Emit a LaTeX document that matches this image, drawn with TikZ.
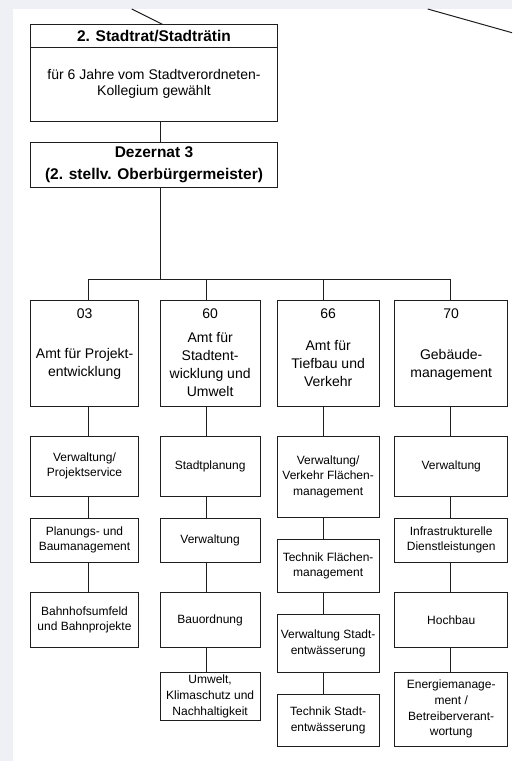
\documentclass[tikz,border=0pt]{standalone}
\usepackage{fontspec}
\setmainfont{Liberation Sans}
\definecolor{bgray}{RGB}{238,240,246}
\definecolor{ink}{RGB}{30,30,30}
\begin{document}
\begin{tikzpicture}[x=1pt,y=-1pt,
  box/.style={draw=ink, line width=1pt, inner sep=0pt, align=center, rectangle},
  sub/.style={box, font=\fontsize{12}{15.7}\selectfont},
  lbl/.style={inner sep=0pt, align=center},
  amt/.style={lbl, font=\fontsize{14}{18}\selectfont},
  conn/.style={draw=ink, line width=1pt}]
\fill[bgray] (0,0) rectangle (512,761);
\fill[white] (13,9) rectangle (512,761);
\useasboundingbox (0,0) rectangle (512,761);

% helper coordinates
\coordinate (hdr) at (0,47);
\coordinate (bar) at (0,279);
\coordinate (cx) at (160.3,0);
\coordinate (c03) at (88.7,0);
\coordinate (c60) at (206.8,0);
\coordinate (c66) at (323.3,0);
\coordinate (c70) at (450,0);

% top boxes
\node[box, minimum width=246.6pt, minimum height=96.7pt] (rat) at (154,72.65) {};
\node[lbl, font=\fontsize{15.5}{20}\selectfont\bfseries] (rathead) at (154,36) {2. Stadtrat/Stadträtin};
\node[lbl, font=\fontsize{14}{16.3}\selectfont] (ratbody) at (154,84.2) {für 6 Jahre vom Stadtverordneten-\\Kollegium gewählt};
\draw[conn] (rat.west |- hdr) -- (rat.east |- hdr);

\node[box, minimum width=246.6pt, minimum height=44.7pt, font=\fontsize{15.5}{21.7}\selectfont\bfseries] (dez) at (154,164.65) {Dezernat 3\\(2. stellv. Oberbürgermeister)};

% incoming lines from outside
\coordinate (inL) at (131.7,9);
\coordinate (ratin) at (162.3,24.3);
\coordinate (inR) at (427.7,9);
\coordinate (outR) at (512,32.7);
\draw[conn] (inL) -- (ratin);
\draw[conn] (inR) -- (outR);

% Aemter
\node[box, minimum width=107.8pt, minimum height=105.8pt] (a03) at (84.6,353.6) {};
\node[amt] (n03) at (84.6,313.3) {03};
\node[amt] (t03) at (84.6,364.2) {Amt für Projekt-\\entwicklung};

\node[box, minimum width=100.3pt, minimum height=105.8pt] (a60) at (210.15,353.6) {};
\node[amt] (n60) at (210.15,313.3) {60};
\node[amt] (t60) at (210.15,364.3) {Amt für\\Stadtent-\\wicklung und\\Umwelt};

\node[box, minimum width=101.7pt, minimum height=105.8pt] (a66) at (328.15,353.6) {};
\node[amt] (n66) at (328.15,313.3) {66};
\node[amt] (t66) at (328.15,363.8) {Amt für\\Tiefbau und\\Verkehr};

\node[box, minimum width=113pt, minimum height=105.8pt] (a70) at (451.2,353.6) {};
\node[amt] (n70) at (451.2,313.3) {70};
\node[amt] (t70) at (451.2,364.7) {Gebäude-\\management};

% column 03
\node[sub, minimum width=107.6pt, minimum height=60pt] (s03a) at (84.5,466) {Verwaltung/\\Projektservice};
\node[sub, minimum width=107.6pt, minimum height=44pt] (s03b) at (84.5,540) {Planungs- und\\Baumanagement};
\node[sub, minimum width=107.6pt, minimum height=55.4pt] (s03c) at (84.5,620) {Bahnhofsumfeld\\und Bahnprojekte};

% column 60
\node[sub, minimum width=100.3pt, minimum height=60pt] (s60a) at (210.15,466) {Stadtplanung};
\node[sub, minimum width=100.3pt, minimum height=44pt] (s60b) at (210.15,540) {Verwaltung};
\node[sub, minimum width=100.3pt, minimum height=55.4pt] (s60c) at (210.15,620) {Bauordnung};
\node[sub, minimum width=100.3pt, minimum height=48.4pt] (s60d) at (210.15,696.5) {Umwelt,\\Klimaschutz und\\Nachhaltigkeit};

% column 66
\node[sub, minimum width=101.7pt, minimum height=81.7pt] (s66a) at (328.15,476.85) {Verwaltung/\\Verkehr Flächen-\\management};
\node[sub, minimum width=101.7pt, minimum height=52.6pt] (s66b) at (328.15,566) {Technik Flächen-\\management};
\node[sub, minimum width=101.7pt, minimum height=57.6pt] (s66c) at (328.15,643.5) {Verwaltung Stadt-\\entwässerung};
\node[sub, minimum width=101.7pt, minimum height=52pt] (s66d) at (328.15,720.3) {Technik Stadt-\\entwässerung};

% column 70
\node[sub, minimum width=113pt, minimum height=60pt] (s70a) at (451.2,466) {Verwaltung};
\node[sub, minimum width=113pt, minimum height=44pt] (s70b) at (451.2,540) {Infrastrukturelle\\Dienstleistungen};
\node[sub, minimum width=113pt, minimum height=55.4pt] (s70c) at (451.2,620) {Hochbau};
\node[sub, minimum width=113pt, minimum height=74pt] (s70d) at (451.2,709.3) {Energiemanage-\\ment /\\Betreiberverant-\\wortung};

% connectors
\draw[conn] (rat.south -| cx) -- (dez.north -| cx);
\draw[conn] (dez.south -| cx) -- (cx |- bar);
\draw[conn] (c03 |- bar) -- (c70 |- bar);
\draw[conn] (c03 |- bar) -- (a03.north -| c03);
\draw[conn] (c60 |- bar) -- (a60.north -| c60);
\draw[conn] (c66 |- bar) -- (a66.north -| c66);
\draw[conn] (c70 |- bar) -- (a70.north -| c70);

\draw[conn] (a03.south -| c03) -- (s03a.north -| c03);
\draw[conn] (s03a.south -| c03) -- (s03b.north -| c03);
\draw[conn] (s03b.south -| c03) -- (s03c.north -| c03);

\draw[conn] (a60.south -| c60) -- (s60a.north -| c60);
\draw[conn] (s60a.south -| c60) -- (s60b.north -| c60);
\draw[conn] (s60b.south -| c60) -- (s60c.north -| c60);
\draw[conn] (s60c.south -| c60) -- (s60d.north -| c60);

\draw[conn] (a66.south -| c66) -- (s66a.north -| c66);
\draw[conn] (s66a.south -| c66) -- (s66b.north -| c66);
\draw[conn] (s66b.south -| c66) -- (s66c.north -| c66);
\draw[conn] (s66c.south -| c66) -- (s66d.north -| c66);

\draw[conn] (a70.south -| c70) -- (s70a.north -| c70);
\draw[conn] (s70a.south -| c70) -- (s70b.north -| c70);
\draw[conn] (s70b.south -| c70) -- (s70c.north -| c70);
\draw[conn] (s70c.south -| c70) -- (s70d.north -| c70);
\end{tikzpicture}
\end{document}
